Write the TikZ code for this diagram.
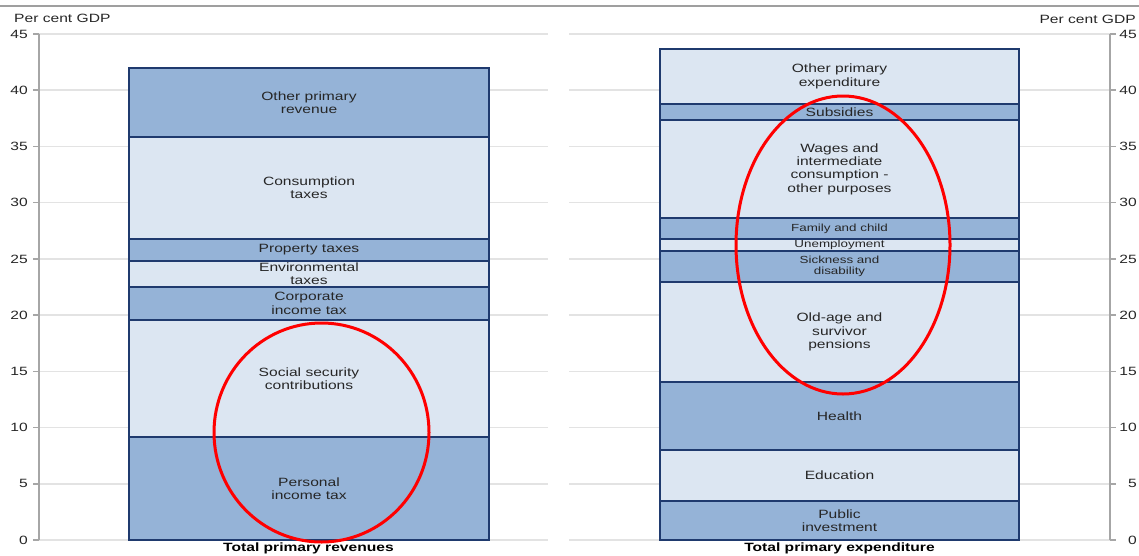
\documentclass[tikz,border=0pt]{standalone}
\usepackage{fontspec}
\setmainfont{Liberation Sans}[FakeStretch=1.3]
\definecolor{dk}{HTML}{95B3D7}
\definecolor{lt}{HTML}{DCE6F2}
\definecolor{edgec}{HTML}{1F3A6E}
\definecolor{gridc}{HTML}{E3E3E3}
\definecolor{axisc}{HTML}{A6A6A6}
\definecolor{txt}{HTML}{262626}
\tikzset{
  seg/.style={draw=edgec, line width=1.4pt},
  lab/.style={align=center, font=\fontsize{12}{13.3}\selectfont, text=txt, inner sep=0pt},
  smalllab/.style={align=center, font=\fontsize{10.3}{10.6}\selectfont, text=txt, inner sep=0pt},
  boldlab/.style={font=\fontsize{12}{13.3}\selectfont\bfseries, text=black, inner sep=0pt},
  ticklab/.style={font=\fontsize{12}{13.3}\selectfont, text=txt, inner sep=0pt},
  gridline/.style={draw=gridc, line width=1.5pt},
  axisline/.style={draw=axisc, line width=1.5pt},
  ring/.style={draw=red, line width=3pt},
}
\newcommand\barseg[8]{%
  \path[seg,fill=#6] (#2,#4) rectangle (#3,#5);
  \node[#7] (#1) at ({(#2+#3)/2},{(#4+#5)/2}) {#8};}
\begin{document}
\begin{tikzpicture}[x=1pt,y=-1pt]
\useasboundingbox (0,0) rectangle (1139,555);
% top border
\draw[draw=gray!75, line width=2.5pt] (0,6) -- (1139,6);
% grid, ticks and labels
\foreach \k in {0,...,9} {
  \pgfmathsetmacro\yy{540-56.222*\k}
  \pgfmathtruncatemacro\vv{5*\k}
  \draw[gridline] (39,\yy) -- (548,\yy);
  \draw[gridline] (569,\yy) -- (1110,\yy);
  \draw[axisline] (33,\yy) -- (39,\yy);
  \draw[axisline] (1110,\yy) -- (1116,\yy);
  \node[ticklab, anchor=east] (tl\k) at (28,\yy) {\vv};
  \node[ticklab, anchor=east] (tr\k) at (1137,\yy) {\vv};
}
\draw[axisline] (39,34) -- (39,540);
\draw[axisline] (1110,34) -- (1110,540);
\node[ticklab, anchor=west] (unitl) at (14,18) {Per cent GDP};
\node[ticklab, anchor=east] (unitr) at (1136,19) {Per cent GDP};
% left bar
\barseg{pit}{129}{489}{540}{437}{dk}{lab}{Personal\\income tax}
\barseg{ssc}{129}{489}{437}{320}{lt}{lab}{Social security\\contributions}
\barseg{cit}{129}{489}{320}{287}{dk}{lab}{Corporate\\income tax}
\barseg{env}{129}{489}{287}{261}{lt}{lab}{Environmental\\taxes}
\barseg{prop}{129}{489}{261}{239}{dk}{lab}{Property taxes}
\barseg{cons}{129}{489}{239}{137}{lt}{lab}{Consumption\\taxes}
\barseg{othr}{129}{489}{137}{68}{dk}{lab}{Other primary\\revenue}
% right bar
\barseg{pub}{660}{1019}{540}{501}{dk}{lab}{Public\\investment}
\barseg{edu}{660}{1019}{501}{450}{lt}{lab}{Education}
\barseg{hea}{660}{1019}{450}{382}{dk}{lab}{Health}
\barseg{old}{660}{1019}{382}{282}{lt}{lab}{Old-age and\\survivor\\pensions}
\barseg{sick}{660}{1019}{282}{251}{dk}{smalllab}{Sickness and\\disability}
\barseg{unemp}{660}{1019}{251}{239}{lt}{smalllab}{Unemployment}
\barseg{fam}{660}{1019}{239}{218}{dk}{smalllab}{Family and child}
\barseg{wag}{660}{1019}{218}{120}{lt}{lab}{Wages and\\intermediate\\consumption -\\other purposes}
\barseg{sub}{660}{1019}{120}{104}{dk}{lab}{Subsidies}
\barseg{othe}{660}{1019}{104}{49}{lt}{lab}{Other primary\\expenditure}
% bar captions
\node[boldlab] (capl) at (308.5,548) {Total primary revenues};
\node[boldlab] (capr) at (839.5,548) {Total primary expenditure};
% red rings
\draw[ring] (321.5,432.5) ellipse [x radius=107.5pt, y radius=109.5pt];
\draw[ring] (843,245) ellipse [x radius=107pt, y radius=149pt];
\end{tikzpicture}
\end{document}
